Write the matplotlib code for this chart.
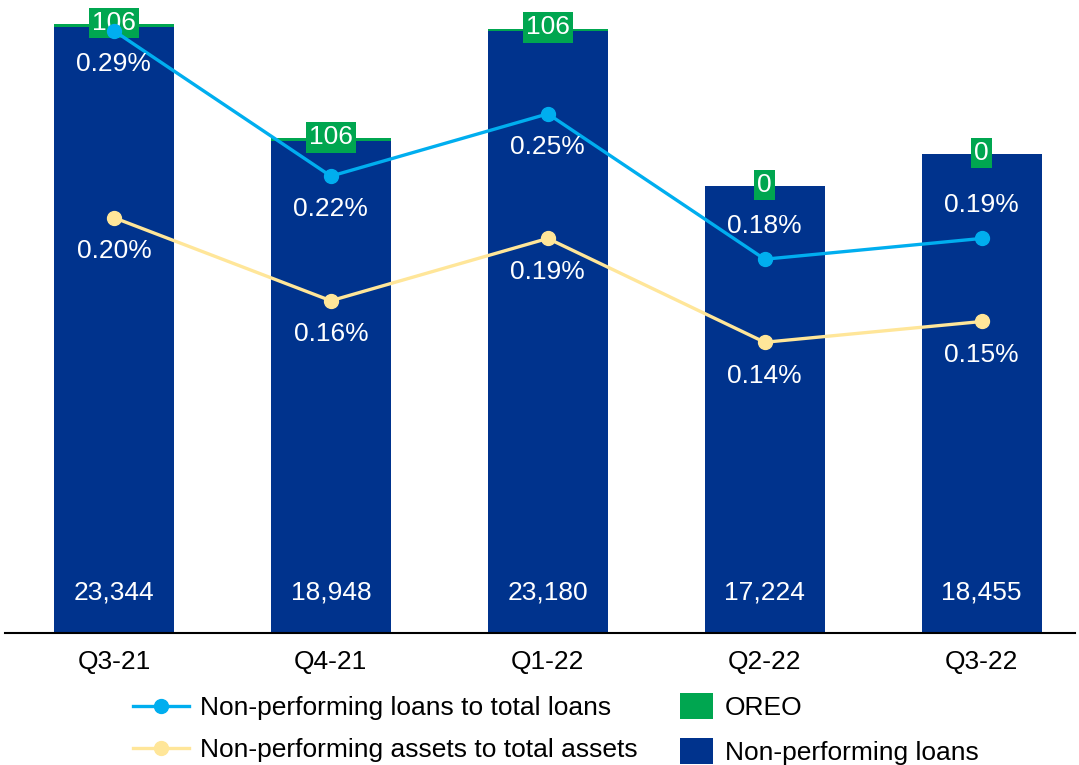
import matplotlib
matplotlib.use("Agg")
import matplotlib.pyplot as plt
from matplotlib.patches import Patch
from matplotlib.lines import Line2D

plt.rcParams['font.family'] = ['Liberation Sans', 'DejaVu Sans']

quarters = ["Q3-21", "Q4-21", "Q1-22", "Q2-22", "Q3-22"]
npl = [23344, 18948, 23180, 17224, 18455]
oreo = [106, 106, 106, 0, 0]
npl_ratio = [0.29, 0.22, 0.25, 0.18, 0.19]
npa_ratio = [0.20, 0.16, 0.19, 0.14, 0.15]

NAVY = "#00338D"
GREEN = "#00A650"
BLUE = "#00AEEF"
YELLOW = "#FFE699"
FS = 19

fig = plt.figure(figsize=(10.79, 7.65), dpi=100)
ax = fig.add_axes([5 / 1079, 1 - 633 / 765, 1070 / 1079, 623 / 765])
x = list(range(len(quarters)))
w = 0.553

ax.bar(x, npl, width=w, color=NAVY, zorder=2)
ax.bar(x, oreo, width=w, bottom=npl, color=GREEN, zorder=2)
ax.set_xlim(-0.502, 4.43)
ax.set_ylim(0, 24000)

for xi, n, o in zip(x, npl, oreo):
    ax.text(xi, 1550, f"{n:,}", ha="center", va="center", color="white", fontsize=FS, zorder=5)
    ax.text(xi, n + o + 40, f"{o}", ha="center", va="center", color="white", fontsize=FS, zorder=6,
            bbox=dict(boxstyle="square,pad=0.12", facecolor=GREEN, edgecolor="none"))

ax2 = ax.twinx()
ax2.set_ylim(0, 0.30)
ax2.axis("off")
ax2.plot(x, npa_ratio, color=YELLOW, lw=2.4, marker="o", ms=10, zorder=3)
ax2.plot(x, npl_ratio, color=BLUE, lw=2.4, marker="o", ms=10, zorder=4)

ax.set_xticks(x)
ax.set_xticklabels(quarters, fontsize=FS)
ax.tick_params(axis="x", length=0, pad=12)
ax.set_yticks([])
for s in ["top", "right", "left"]:
    ax.spines[s].set_visible(False)
ax.spines["bottom"].set_linewidth(1.5)
ax.spines["bottom"].set_color("black")

above_npl = [False, False, False, True, True]
for xi, v, up in zip(x, npl_ratio, above_npl):
    ax2.annotate(f"{v:.2f}%", (xi, v), xytext=(0, 24 if up else -24), textcoords="offset points",
                 ha="center", va="center", color="white", fontsize=FS, zorder=6)
for xi, v in zip(x, npa_ratio):
    ax2.annotate(f"{v:.2f}%", (xi, v), xytext=(0, -24), textcoords="offset points",
                 ha="center", va="center", color="white", fontsize=FS, zorder=6)

line_handles = [
    Line2D([], [], color=BLUE, lw=2.4, marker="o", ms=10),
    Line2D([], [], color=YELLOW, lw=2.4, marker="o", ms=10),
]
line_labels = ["Non-performing loans to total loans", "Non-performing assets to total assets"]
patch_handles = [Patch(facecolor=GREEN), Patch(facecolor=NAVY)]
patch_labels = ["OREO", "Non-performing loans"]

leg1 = fig.legend(line_handles, line_labels, loc="center left",
                  bbox_to_anchor=(120 / 1079, 1 - 729 / 765), frameon=False, fontsize=FS,
                  handlelength=2.1, labelspacing=0.68, handletextpad=0.45, borderpad=0)
leg2 = fig.legend(patch_handles, patch_labels, loc="center left",
                  bbox_to_anchor=(667 / 1079, 1 - 729 / 765), frameon=False, fontsize=FS,
                  handlelength=1.25, handleheight=1.15, labelspacing=0.68, handletextpad=0.45,
                  borderpad=0)

fig.savefig("out.png", dpi=100)
